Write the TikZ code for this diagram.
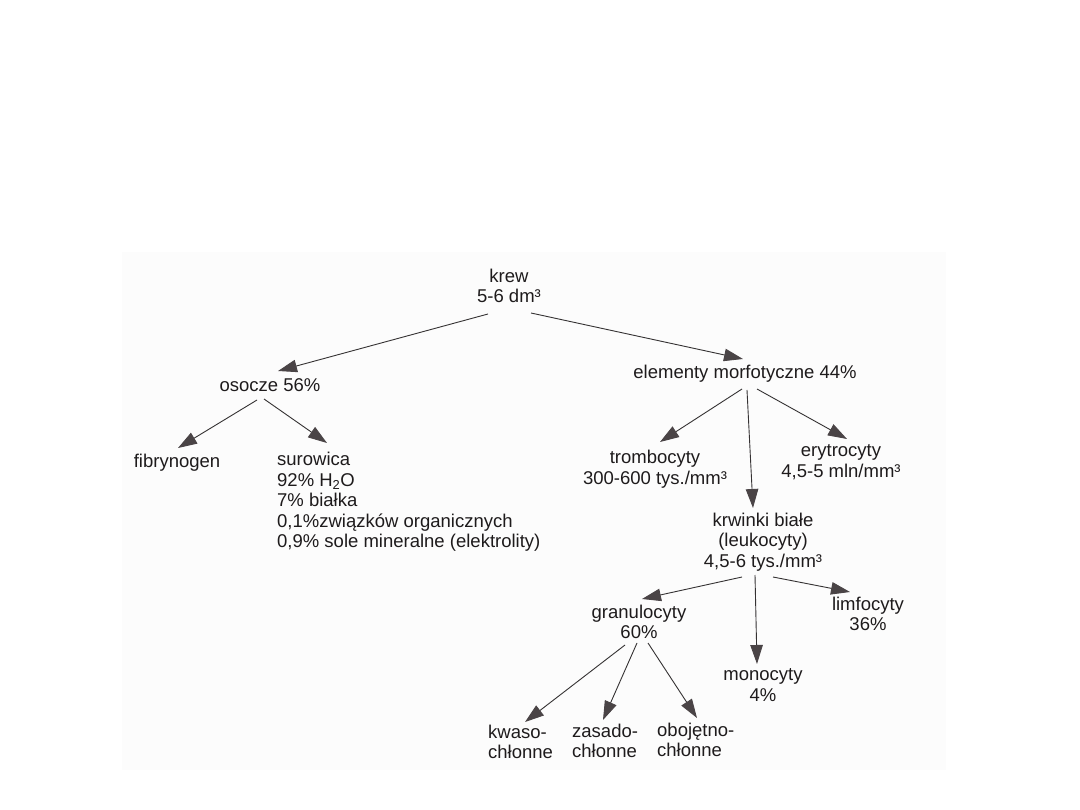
\documentclass[tikz,border=0pt]{standalone}
\usepackage{fontspec}
\setmainfont{Liberation Sans}
\usetikzlibrary{arrows.meta}
\definecolor{ink}{RGB}{30,27,28}
\definecolor{tipgray}{RGB}{74,68,70}
\tikzset{
  lbl/.style={inner sep=0pt, align=center, text=ink,
    font=\fontsize{18.5}{20.5}\selectfont},
  leftlbl/.style={lbl, align=left, anchor=west},
  arr/.style={draw=ink!90, line width=0.9pt,
    -{Triangle[length=19pt,width=12.5pt,color=tipgray]}}
}
\begin{document}
\begin{tikzpicture}[x=1pt,y=-1pt]
  \useasboundingbox (0,0) rectangle (1080,810);
  \fill[black!1] (122,252) rectangle (946,770);
  % top level
  \node[lbl] (krew) at (509,286) {krew\\5-6 dm³};
  \node[lbl] (osocze) at (270,385) {osocze 56\%};
  \node[lbl] (elem) at (745,374) {elementy morfotyczne 44\%};
  % plasma
  \node[lbl] (fibr) at (177,463) {fibrynogen};
  \node[leftlbl] (surow) at (277,502)
    {surowica\\92\% H\textsubscript{2}O\\7\% białka\\0,1\%związków organicznych\\0,9\% sole mineralne (elektrolity)};
  % cells
  \node[lbl] (tromb) at (655,469) {trombocyty\\300-600 tys./mm³};
  \node[lbl] (eryt) at (841,462) {erytrocyty\\4,5-5 mln/mm³};
  \node[lbl] (leuko) at (763,542) {krwinki białe\\(leukocyty)\\4,5-6 tys./mm³};
  \node[lbl] (granul) at (639,622) {granulocyty\\60\%};
  \node[lbl] (limfo) at (868,614) {limfocyty\\36\%};
  \node[lbl] (mono) at (763,685) {monocyty\\4\%};
  \node[leftlbl] (kwaso) at (488,742) {kwaso-\\chłonne};
  \node[leftlbl] (zasado) at (572,741) {zasado-\\chłonne};
  \node[leftlbl] (oboj) at (657,740) {obojętno-\\chłonne};
  % arrows
  \draw[arr] ([shift={(-21,28)}]krew.center) -- ([shift={(8,-14)}]osocze.center);
  \draw[arr] ([shift={(22,27)}]krew.center) -- ([shift={(-2,-15)}]elem.center);
  \draw[arr] ([shift={(-13,15)}]osocze.center) -- ([shift={(1,-15)}]fibr.center);
  \draw[arr] ([shift={(-6,14)}]osocze.center) -- ([shift={(50,-59)}]surow.west);
  \draw[arr] ([shift={(-3,15)}]elem.center) -- ([shift={(5,-27)}]tromb.center);
  \draw[arr] ([shift={(2,16)}]elem.center) -- ([shift={(-10,-34)}]leuko.center);
  \draw[arr] ([shift={(12,15)}]elem.center) -- ([shift={(6,-23)}]eryt.center);
  \draw[arr] ([shift={(-21,35)}]leuko.center) -- ([shift={(3,-23)}]granul.center);
  \draw[arr] ([shift={(-8,33)}]leuko.center) -- ([shift={(-6,-21)}]mono.center);
  \draw[arr] ([shift={(10,35)}]leuko.center) -- ([shift={(-18,-22)}]limfo.center);
  \draw[arr] ([shift={(-14,23)}]granul.center) -- ([shift={(37,-20)}]kwaso.west);
  \draw[arr] ([shift={(-2,21)}]granul.center) -- ([shift={(31,-21)}]zasado.west);
  \draw[arr] ([shift={(9,21)}]granul.center) -- ([shift={(40,-22)}]oboj.west);
\end{tikzpicture}
\end{document}
